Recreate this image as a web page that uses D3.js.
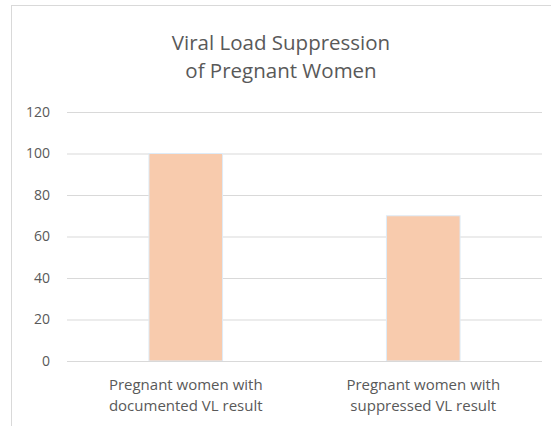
<!DOCTYPE html>
<meta charset="utf-8">
<script src="https://d3js.org/d3.v7.min.js"></script>
<style>
body { margin: 0; background: #fff; }
svg text { font-family: "Open Sans", sans-serif; fill: #595959; }
</style>
<body>
<script>

// chart data
var categories = ["Pregnant women with\ndocumented VL result", "Pregnant women with\nsuppressed VL result"]
var values = [100, 70]
var yTicks = [0, 20, 40, 60, 80, 100, 120]
var titleLines = ["Viral Load Suppression", "of Pregnant Women"]

var width = 551,
    height = 426

var plot = { left: 67, right: 542, top: 112, bottom: 361 }

var svg = d3.select("body").append("svg")
    .attr("width", width)
    .attr("height", height)

// outer chart border (only left / top visible in the crop)
svg.append("rect")
    .attr("x", 11.5)
    .attr("y", 5.5)
    .attr("width", width + 10)
    .attr("height", height + 10)
    .attr("fill", "none")
    .attr("stroke", "#d9d9d9")

// title, one text per line
svg.selectAll(".title")
    .data(titleLines)
    .enter().append("text")
    .attr("class", "title")
    .attr("text-anchor", "middle")
    .attr("font-size", 20.5)
    .attr("x", 281)
    .attr("y", function(d, i) { return 50 + i * 28 })
    .text(function(d) { return d })

var y = d3.scaleLinear()
    .domain([0, 120])
    .range([plot.bottom, plot.top])

var x = d3.scaleBand()
    .domain(categories)
    .range([plot.left, plot.right])
    .paddingInner(0.69)
    .paddingOuter(0.345)

// gridlines + y labels
var yAxis = d3.axisLeft(y)
    .tickValues(yTicks)
    .tickSize(-(plot.right - plot.left))
    .tickPadding(17)

var gy = svg.append("g")
    .attr("transform", "translate(" + plot.left + ",0)")
    .call(yAxis)
gy.select(".domain").remove()
gy.selectAll(".tick line").attr("stroke", "#d9d9d9")
gy.selectAll(".tick text")
    .attr("font-size", 14)
    .attr("fill", "#595959")
    .attr("font-family", "Open Sans, sans-serif")

// bars
svg.selectAll(".bar")
    .data(values)
    .enter().append("rect")
    .attr("class", "bar")
    .attr("x", function(d, i) { return x(categories[i]) })
    .attr("y", function(d) { return y(d) })
    .attr("width", x.bandwidth())
    .attr("height", function(d) { return y(0) - y(d) })
    .attr("fill", "#f8cbad")
    .attr("stroke", "#deebf7")
    .attr("stroke-width", 1)

// x axis line
svg.append("line")
    .attr("x1", plot.left)
    .attr("x2", plot.right)
    .attr("y1", y(0) + 0.5)
    .attr("y2", y(0) + 0.5)
    .attr("stroke", "#d9d9d9")

// category labels
var cat = svg.selectAll(".cat")
    .data(categories)
    .enter().append("text")
    .attr("class", "cat")
    .attr("text-anchor", "middle")
    .attr("font-size", 15)
cat.selectAll("tspan")
    .data(function(d) { return d.split("\n").map(function(t) { return { t: t, c: d } }) })
    .enter().append("tspan")
    .attr("x", function(d) { return x(d.c) + x.bandwidth() / 2 })
    .attr("y", function(d, i) { return 390 + i * 21 })
    .text(function(d) { return d.t })

</script>
</body>
